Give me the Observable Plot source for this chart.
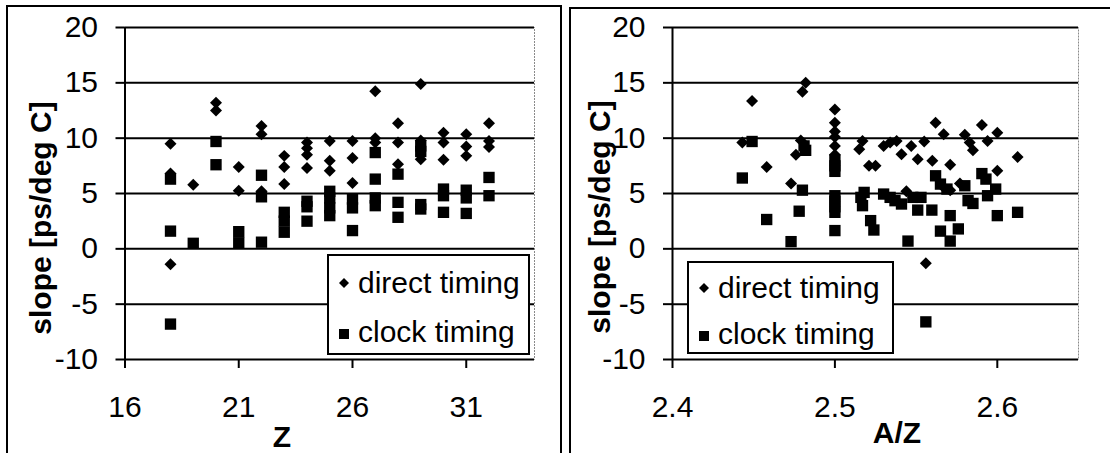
<!DOCTYPE html>
<html>
<head>
<meta charset="utf-8">
<script src="https://cdn.jsdelivr.net/npm/d3@7"></script>
<script src="https://cdn.jsdelivr.net/npm/@observablehq/plot@0.6"></script>
<style>
  html, body { margin: 0; padding: 0; background: #fff; }
  #wrap { position: relative; width: 1110px; height: 453px; overflow: hidden; background: #fff;
          font-family: "Liberation Sans", Arial, sans-serif; color: #000; }
  .svgbox { position: absolute; top: 0; }
  .border { position: absolute; border: 2px solid #000; box-sizing: border-box; pointer-events: none; }
  .ytitle { position: absolute; font-weight: bold; font-size: 30px; white-space: nowrap;
            transform: translate(-50%, -50%) rotate(-90deg); line-height: 1; }
  .xtitle { position: absolute; font-weight: bold; font-size: 30px; white-space: nowrap;
            transform: translate(-50%, -50%); line-height: 1; }
  .legend { position: absolute; border: 2px solid #000; background: #fff; box-sizing: border-box; }
  .legend .sym { position: absolute; }
  .legend .lab { position: absolute; font-size: 30px; line-height: 30px; white-space: nowrap; }
</style>
</head>
<body>
<div id="wrap"></div>
<script>
// ---------- data ----------
const yTicks = [-10, -5, 0, 5, 10, 15, 20];
const zTicks = [16, 21, 26, 31];
const azTicks = [2.4, 2.5, 2.6];
const zDomain = [16, 34];
const azDomain = [2.4, 2.65];
const seriesNames = ["direct timing", "clock timing"];

// Left panel: slope vs Z
const leftDirectZ = [18, 18, 18, 19, 20, 20, 21, 21, 22, 22, 22, 23, 23, 23, 24, 24, 24, 24, 25, 25, 25,
  26, 26, 26, 27, 27, 27, 28, 28, 28, 29, 29, 29, 30, 30, 30, 31, 31, 31, 32, 32, 32];
const leftDirectSlope = [9.5, 6.8, -1.4, 5.8, 13.2, 12.5, 7.4, 5.25, 11.1, 10.35, 5.2, 8.4, 7.4, 5.85, 9.6, 9.1, 8.5, 7.3, 9.75, 7.95, 7.05,
  9.75, 8.2, 5.95, 14.25, 10.0, 9.6, 11.35, 9.6, 7.65, 14.9, 9.8, 8.1, 10.5, 9.6, 8.05, 10.35, 9.25, 8.4, 11.35, 9.75, 9.2];
const leftClockZ = [18, 18, 18, 19, 20, 20, 21, 21, 22, 22, 22, 23, 23, 23, 24, 24, 24, 25, 25, 25, 25,
  26, 26, 26, 27, 27, 27, 27, 28, 28, 28, 29, 29, 29, 29, 30, 30, 30, 31, 31, 31, 32, 32];
const leftClockSlope = [6.3, 1.6, -6.8, 0.5, 9.7, 7.6, 1.55, 0.55, 6.65, 4.7, 0.6, 3.3, 2.5, 1.5, 4.3, 3.8, 2.5, 5.2, 4.6, 3.7, 3.0,
  4.5, 3.7, 1.65, 8.7, 6.3, 4.6, 3.9, 6.75, 4.2, 2.85, 9.3, 8.8, 4.0, 3.6, 5.4, 4.8, 3.3, 5.3, 4.6, 3.2, 6.45, 4.8];

// Right panel: slope vs A/Z
const rightDirectAZ = [2.443, 2.449, 2.458, 2.473, 2.476, 2.479, 2.480, 2.482,
  2.5, 2.5, 2.5, 2.5, 2.5, 2.5, 2.515, 2.517, 2.521, 2.525, 2.53, 2.534, 2.538, 2.541, 2.544,
  2.547, 2.551, 2.555, 2.556, 2.56, 2.562, 2.567, 2.566, 2.571, 2.571, 2.577, 2.580, 2.583, 2.585,
  2.5905, 2.594, 2.6, 2.6, 2.6125];
const rightDirectSlope = [9.6, 13.35, 7.4, 5.9, 8.5, 9.8, 14.2, 15.0,
  12.6, 11.4, 10.6, 10.1, 9.3, 8.5, 9.0, 9.75, 7.5, 7.5, 9.3, 9.6, 9.75, 8.55, 5.2,
  9.3, 8.1, 9.7, -1.3, 7.95, 11.4, 10.35, 5.7, 7.6, 5.3, 5.9, 10.3, 9.6, 8.9,
  11.2, 9.75, 10.5, 7.05, 8.3];
const rightClockAZ = [2.443, 2.449, 2.458, 2.473, 2.478, 2.480, 2.481, 2.482,
  2.5, 2.5, 2.5, 2.5, 2.5, 2.5, 2.5, 2.5, 2.516, 2.518, 2.517, 2.522, 2.524,
  2.530, 2.534, 2.537, 2.541, 2.545, 2.548, 2.553, 2.551, 2.556, 2.5597,
  2.562, 2.565, 2.569, 2.565, 2.571, 2.571, 2.576, 2.580, 2.582, 2.585,
  2.5905, 2.593, 2.594, 2.599, 2.6, 2.6125];
const rightClockSlope = [6.4, 9.7, 2.65, 0.65, 3.4, 5.3, 9.3, 8.9,
  8.0, 7.5, 7.0, 4.8, 4.3, 3.8, 3.3, 1.65, 4.65, 5.1, 3.9, 2.55, 1.7,
  4.95, 4.65, 4.35, 4.05, 0.7, 4.65, 4.65, 3.5, -6.6, 3.5,
  6.6, 5.85, 5.4, 1.6, 3.0, 0.7, 1.8, 5.7, 4.35, 4.1,
  6.8, 6.3, 4.8, 5.4, 3.0, 3.3];

// ---------- drawing ----------
const pairs = (xs, ys) => xs.map((x, i) => ({x, y: ys[i]}));
const hyphen = d => String(d);

function panel({xDomain, xTicks, xFormat, direct, clock, width, marginLeft, marginRight}) {
  return Plot.plot({
    width, height: 453,
    marginLeft, marginRight, marginTop: 27, marginBottom: 94,
    style: {fontFamily: '"Liberation Sans", Arial, sans-serif', color: "#000", background: "transparent", overflow: "visible"},
    x: {domain: xDomain},
    y: {domain: [yTicks[0], yTicks[yTicks.length - 1]]},
    marks: [
      Plot.frame({stroke: "#8a8a8a", strokeWidth: 1, strokeDasharray: "2,1"}),
      Plot.ruleY(yTicks, {stroke: "#000", strokeWidth: 2}),
      Plot.ruleX([xDomain[0]], {stroke: "#000", strokeWidth: 2}),
      Plot.axisY({ticks: yTicks, tickSize: 9, tickPadding: 18, tickFormat: hyphen, fontSize: 30, strokeWidth: 2, label: null}),
      Plot.axisX({ticks: xTicks, tickSize: 9, tickPadding: 27, tickFormat: xFormat, fontSize: 30, strokeWidth: 2, label: null}),
      Plot.dot(direct, {x: "x", y: "y", symbol: "diamond2", r: 5.4, fill: "#000", stroke: "none"}),
      Plot.dot(clock, {x: "x", y: "y", symbol: "square", r: 6.4, fill: "#000", stroke: "none"})
    ]
  });
}

const wrap = document.getElementById("wrap");

function addPanel(svg, left) {
  const d = document.createElement("div");
  d.className = "svgbox";
  d.style.left = left + "px";
  d.appendChild(svg);
  wrap.appendChild(d);
}

addPanel(panel({
  xDomain: zDomain, xTicks: zTicks, xFormat: hyphen,
  direct: pairs(leftDirectZ, leftDirectSlope), clock: pairs(leftClockZ, leftClockSlope),
  width: 560, marginLeft: 124.5, marginRight: 26
}), 0);

addPanel(panel({
  xDomain: azDomain, xTicks: azTicks, xFormat: d3.format(".1f"),
  direct: pairs(rightDirectAZ, rightDirectSlope), clock: pairs(rightClockAZ, rightClockSlope),
  width: 550, marginLeft: 112, marginRight: 32
}), 560);

function addEl(cls, text, left, top) {
  const e = document.createElement("div");
  e.className = cls;
  e.textContent = text;
  e.style.left = left + "px";
  e.style.top = top + "px";
  wrap.appendChild(e);
  return e;
}

// axis titles
addEl("ytitle", "slope [ps/deg C]", 41, 218);
addEl("ytitle", "slope [ps/deg C]", 600, 217);
addEl("xtitle", "Z", 282, 437);
addEl("xtitle", "A/Z", 897, 433);

// legends
const symSvg = {
  diamond: '<svg width="12" height="12" viewBox="0 0 12 12"><path d="M6 1L11 6L6 11L1 6Z" fill="#000"/></svg>',
  square: '<svg width="10" height="10" viewBox="0 0 10 10"><rect x="0" y="0" width="10" height="10" fill="#000"/></svg>'
};
function addLegend(left, top, w, h, row1, row2) {
  const lg = document.createElement("div");
  lg.className = "legend";
  Object.assign(lg.style, {left: left + "px", top: top + "px", width: w + "px", height: h + "px"});
  const rows = [[symSvg.diamond, seriesNames[0], row1], [symSvg.square, seriesNames[1], row2]];
  rows.forEach(([svg, name, cy], i) => {
    const s = document.createElement("div");
    s.className = "sym";
    s.innerHTML = svg;
    s.style.left = (i === 0 ? 9 : 10) + "px";
    s.style.top = (cy - (i === 0 ? 8 : 7)) + "px";
    lg.appendChild(s);
    const t = document.createElement("div");
    t.className = "lab";
    t.textContent = name;
    t.style.left = "29px";
    t.style.top = (cy - 15) + "px";
    lg.appendChild(t);
  });
  wrap.appendChild(lg);
}
addLegend(327, 254, 203, 101, 27, 76);
addLegend(687, 261, 207, 93, 25, 71);

// panel borders
const b1 = document.createElement("div");
b1.className = "border";
Object.assign(b1.style, {left: "6px", top: "5px", width: "556px", height: "470px"});
wrap.appendChild(b1);
const b2 = document.createElement("div");
b2.className = "border";
Object.assign(b2.style, {left: "569px", top: "7px", width: "560px", height: "470px"});
wrap.appendChild(b2);
</script>
</body>
</html>
